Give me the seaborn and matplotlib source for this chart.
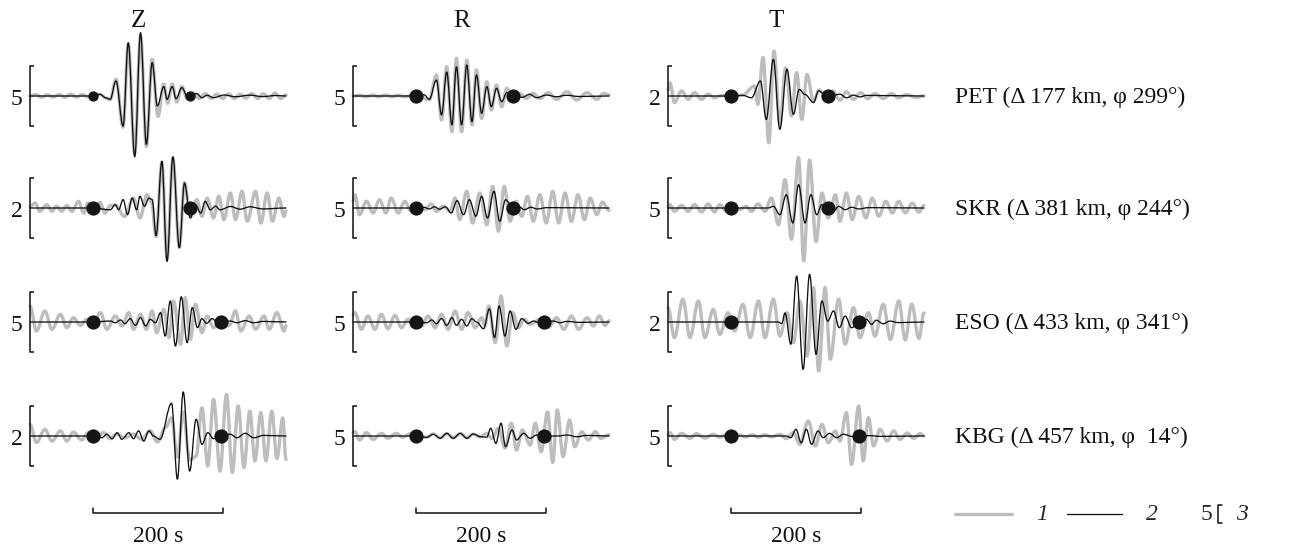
import matplotlib
matplotlib.use("Agg")
import matplotlib.pyplot as plt
from matplotlib.path import Path
from matplotlib.patches import PathPatch
import pandas as pd
import seaborn as sns

# ---------------- data ----------------
stations = ["PET", "SKR", "ESO", "KBG"]
station_labels = ["PET (\u0394 177 km, \u03c6 299\u00b0)", "SKR (\u0394 381 km, \u03c6 244\u00b0)",
                  "ESO (\u0394 433 km, \u03c6 341\u00b0)", "KBG (\u0394 457 km, \u03c6  14\u00b0)"]
components = ["Z", "R", "T"]
scale_Z = [5, 2, 5, 2]
scale_R = [5, 5, 5, 5]
scale_T = [2, 5, 2, 5]
win_start = [98, 98, 98, 98]
win_end = [247, 247, 296, 296]
t_max = 396
bar_seconds = 200
legend_labels = ["1", "2", "3"]
legend_scale = "5"

# traces: (time s, amplitude) at the wave extrema; *_1 = grey trace, *_2 = black trace
PET_Z_1 = [(0,0),(9,0.12),(18,-0.1),(27,0.1),(36,-0.08),(45,0.12),(54,-0.1),(63,0.15),(72,-0.1),(81,0.12),(90,-0.08),(98,0),(108,0.14),(118,-0.17),(124,-0.3),(133,1.4),(144,-2.6),(152,4.3),(162,-4.8),(171,5.0),(180,-4.2),(189,3.05),(198,-1.7),(207,1.0),(213,-0.6),(220,1.0),(227,-0.5),(235,0.8),(243,-0.2),(252,0.25),(262,-0.2),(271,0.2),(280,-0.2),(289,0.15),(298,-0.2),(307,0.18),(316,-0.2),(325,0.15),(334,-0.18),(343,0.2),(352,-0.2),(361,0.18),(370,-0.22),(379,0.25),(388,-0.22),(396,0.1)]
PET_Z_2 = [(0,0),(98,0),(108,0.14),(118,-0.17),(124,-0.28),(133,1.25),(144,-2.5),(152,4.44),(162,-5.06),(171,5.28),(180,-4.03),(189,2.78),(197,-0.83),(207,0.78),(212,-0.28),(220,0.78),(226,-0.22),(235,0.7),(243,0),(258,0.2),(266,-0.14),(274,0.06),(284,-0.14),(300,0.08),(318,-0.06),(340,0.07),(360,-0.05),(380,0.04),(396,0)]
SKR_Z_1 = [(0,0.05),(8,0.17),(15,-0.11),(26,0.11),(34,-0.11),(41,0.06),(49,-0.11),(57,0.08),(65,-0.11),(75,0.22),(83,-0.17),(90,0.17),(99,-0.17),(108,0.19),(116,-0.17),(124,0.08),(132,0.1),(146,-0.28),(160,0.33),(170,-0.33),(181,0.44),(188,0.2),(195,-0.95),(204,1.5),(212,-1.7),(221,1.65),(231,-1.3),(239,0.85),(248,-0.3),(258,0.28),(266,-0.28),(274,0.33),(284,-0.33),(292,0.39),(300,-0.39),(310,0.5),(318,-0.39),(328,0.56),(336,-0.44),(349,0.56),(357,-0.5),(367,0.5),(375,-0.44),(385,0.33),(393,-0.28),(396,-0.1)]
SKR_Z_2 = [(0,0),(98,0),(124,-0.06),(132,0.11),(137,-0.06),(144,0.28),(151,-0.22),(158,0.33),(165,-0.06),(170,0.39),(177,0.06),(184,0.33),(189,0.28),(195,-0.92),(204,1.56),(212,-1.78),(221,1.71),(231,-1.33),(239,0.83),(248,-0.33),(256,0.11),(264,-0.17),(271,0.22),(279,-0.06),(287,0.06),(294,-0.06),(310,0.05),(325,-0.04),(340,0.04),(360,-0.03),(396,0)]
ESO_Z_1 = [(0,1.33),(10,-0.75),(23,0.92),(34,-0.61),(47,0.64),(57,-0.47),(67,0.36),(78,-0.28),(88,0.22),(98,-0.1),(109,0.78),(119,-0.61),(132,0.5),(142,-0.33),(153,0.78),(160,-0.61),(171,0.64),(180,-0.61),(189,0.92),(196,-0.89),(207,1.05),(215,-1.3),(222,1.75),(233,-1.86),(240,2.03),(248,-1.44),(256,1.47),(266,-0.89),(274,0.5),(284,-0.47),(297,0.3),(308,-0.3),(318,0.92),(326,-0.75),(339,0.5),(349,-0.61),(362,0.5),(370,-0.61),(382,0.78),(393,-0.75),(396,-0.3)]
ESO_Z_2 = [(0,0),(98,0),(124,0.08),(132,-0.06),(140,0.17),(147,-0.14),(155,0.28),(163,-0.28),(171,0.36),(179,-0.33),(186,0.22),(194,-0.06),(202,0.78),(209,-1.17),(217,1.75),(225,-2.0),(234,2.1),(243,-1.72),(251,1.2),(259,-0.47),(266,0.28),(273,-0.11),(282,0.28),(289,0),(296,0),(310,0.08),(320,-0.06),(333,0.11),(346,-0.06),(361,0.05),(396,0)]
KBG_Z_1 = [(0,0.39),(10,-0.22),(23,0.22),(34,-0.17),(47,0.17),(57,-0.17),(67,0.13),(80,-0.13),(90,0.11),(101,-0.11),(114,0.11),(124,-0.09),(134,0.06),(147,-0.06),(160,0.06),(172,-0.1),(186,0.17),(197,-0.2),(210,0.3),(219,0.6),(228,-0.7),(237,0.8),(247,-0.8),(257,-0.67),(266,0.94),(275,-1.0),(284,1.22),(294,-1.17),(304,1.39),(313,-1.22),(322,1.0),(331,-1.05),(340,0.83),(348,-0.83),(357,0.78),(365,-0.83),(374,0.83),(382,-0.75),(391,0.6),(396,-0.78)]
KBG_Z_2 = [(0,0),(98,0),(111,-0.06),(119,0.06),(127,-0.09),(135,0.11),(142,-0.11),(153,0.11),(160,-0.09),(168,0.17),(176,-0.17),(184,0.17),(191,0),(201,-0.11),(219,1.09),(228,-1.44),(237,1.47),(247,-1.17),(257,0.56),(266,-0.28),(275,0.11),(284,-0.09),(295,0),(310,0.06),(320,-0.06),(333,0.09),(346,-0.06),(361,0.02),(396,0)]

PET_R_1 = [(0,0),(10,0.06),(20,-0.06),(30,0.07),(40,-0.06),(50,0.08),(60,-0.06),(70,0.07),(80,-0.06),(90,0.05),(98,0),(118,-0.3),(129,1.75),(137,-2.0),(145,2.44),(153,-2.97),(160,3.14),(168,-2.97),(176,3.0),(184,-2.42),(191,2.17),(199,-1.86),(207,1.19),(214,-1.17),(222,0.92),(230,-0.89),(238,0.64),(247,-0.2),(258,0.2),(268,-0.2),(279,0.22),(289,-0.22),(302,0.28),(315,-0.28),(331,0.36),(346,-0.33),(362,0.28),(377,-0.28),(388,0.2),(396,0.1)]
PET_R_2 = [(0,0),(98,0),(110,0.1),(118,-0.28),(129,1.33),(137,-1.58),(145,2.0),(153,-2.4),(160,2.44),(168,-2.4),(176,2.58),(184,-2.14),(191,1.75),(199,-1.44),(207,0.78),(214,-0.89),(222,0.64),(230,-0.47),(238,0.28),(247,0),(262,-0.11),(273,0.14),(284,-0.14),(299,0.08),(315,-0.06),(330,0.06),(350,-0.04),(396,0)]
SKR_R_1 = [(0,0.6),(3,1.1),(10,-0.56),(21,0.56),(31,-0.42),(41,0.69),(51,-0.42),(59,0.83),(70,-0.42),(80,0.56),(90,-0.28),(101,0.28),(111,-0.14),(121,0.33),(129,-0.28),(140,0.14),(150,-0.28),(158,0.83),(165,-0.97),(176,1.39),(185,-1.25),(196,1.25),(207,-1.39),(216,1.8),(225,-1.94),(234,1.8),(243,-1.1),(252,0.56),(261,-0.7),(270,0.97),(279,-1.1),(289,1.11),(299,-1.25),(309,1.39),(318,-1.25),(328,1.25),(338,-1.11),(348,1.11),(358,-0.97),(367,0.83),(377,-0.56),(386,0.5),(396,-0.2)]
SKR_R_2 = [(0,0),(98,0),(110,0.06),(118,-0.08),(126,0.1),(134,-0.1),(143,0.1),(152,-0.42),(161,0.61),(171,-0.56),(180,0.69),(190,-0.69),(199,0.97),(208,-0.83),(218,1.39),(227,-1.11),(236,0.69),(247,0),(256,0.14),(265,-0.14),(275,0.06),(285,-0.08),(300,0.03),(396,0)]
ESO_R_1 = [(0,0.6),(3,0.78),(13,-0.61),(23,0.5),(34,-0.61),(44,0.64),(54,-0.56),(65,0.56),(75,-0.47),(85,0.22),(91,-0.1),(97,0.15),(106,-0.33),(116,0.5),(127,-0.47),(137,0.64),(147,-0.61),(158,0.92),(168,-0.61),(178,0.78),(189,-0.47),(199,0.36),(204,-0.3),(210,1.33),(220,-1.72),(229,2.17),(238,-2.0),(247,0.78),(256,-0.47),(265,0.22),(274,-0.2),(289,0.22),(302,-0.47),(315,0.36),(326,-0.61),(338,0.5),(349,-0.61),(362,0.36),(372,-0.33),(381,0.5),(390,-0.3),(396,0.1)]
ESO_R_2 = [(0,0),(98,0),(114,-0.06),(122,0.17),(129,-0.14),(137,0.28),(145,-0.28),(153,0.36),(160,-0.28),(168,0.22),(176,-0.33),(184,0.28),(191,0),(202,-0.56),(211,1.1),(219,-1.3),(226,1.33),(235,-1.17),(243,0.92),(252,-0.61),(261,0.28),(271,-0.11),(279,0.08),(287,-0.06),(296,0),(310,0.08),(320,-0.06),(331,0.05),(350,-0.03),(396,0)]
KBG_R_1 = [(0,0.3),(3,0.36),(10,-0.33),(21,0.28),(31,-0.28),(44,0.22),(54,-0.19),(67,0.22),(77,-0.11),(88,0.17),(98,0),(114,-0.11),(124,0.17),(135,-0.15),(145,0.2),(155,-0.15),(166,0.2),(176,-0.15),(186,0.15),(197,-0.06),(207,0.22),(215,-0.19),(225,0.64),(235,-1.0),(245,1.06),(253,-1.17),(262,0.5),(274,-0.75),(282,1.06),(291,-1.31),(301,2.0),(309,-2.2),(316,2.17),(325,-1.72),(335,1.33),(343,-0.89),(354,0.36),(364,-0.33),(375,0.36),(383,-0.19),(396,0.1)]
KBG_R_2 = [(0,0),(98,0),(114,-0.11),(124,0.14),(135,-0.19),(145,0.22),(155,-0.19),(166,0.22),(176,-0.19),(186,0.17),(197,-0.06),(207,-0.1),(213,0.64),(221,-0.61),(229,1.06),(236,-0.89),(246,0.5),(253,-0.33),(264,0.22),(274,-0.19),(284,0.08),(296,0),(316,0),(331,0.08),(346,-0.06),(362,0.05),(396,0)]

PET_T_1 = [(0,0.2),(3,0.44),(10,-0.22),(21,0.17),(31,-0.11),(41,0.11),(52,-0.11),(62,0.06),(72,-0.06),(83,0.02),(97,0),(115,0.03),(134,0.33),(139,-0.28),(147,1.29),(156,-1.56),(164,1.5),(173,-0.94),(182,0.94),(191,-0.67),(199,0.78),(207,-0.78),(215,0.72),(225,-0.17),(234,0.2),(245,-0.1),(255,0.17),(266,-0.14),(276,0.14),(287,-0.11),(298,0.11),(309,-0.09),(320,0.08),(333,-0.08),(346,0.08),(356,-0.06),(370,0.05),(383,-0.05),(396,0)]
PET_T_2 = [(0,0),(97,0),(116,0.02),(129,-0.06),(143,0.5),(152,-0.78),(163,1.22),(173,-1.11),(184,0.89),(194,-0.61),(203,0.22),(212,0.05),(225,-0.22),(233,0.17),(245,0),(255,0.02),(266,0.06),(276,-0.06),(287,0.03),(297,-0.03),(307,0.02),(396,0)]
SKR_T_1 = [(0,0.1),(3,0.28),(10,-0.28),(21,0.22),(31,-0.28),(41,0.28),(52,-0.33),(62,0.33),(72,-0.33),(80,0.28),(90,-0.28),(100,0.14),(110,-0.14),(121,0.14),(129,-0.28),(139,0.33),(150,-0.28),(160,0.83),(171,-1.39),(181,2.36),(191,-2.6),(202,4.2),(210,-4.4),(219,4.0),(229,-2.8),(238,1.25),(248,-0.83),(259,1.11),(266,-1.11),(276,1.25),(285,-0.97),(295,0.97),(306,-0.83),(316,0.83),(326,-0.69),(337,0.56),(347,-0.42),(357,0.56),(367,-0.4),(378,0.4),(388,-0.35),(396,0.2)]
SKR_T_2 = [(0,0),(97,0),(155,0),(163,0.14),(173,-0.56),(183,1.11),(193,-1.25),(202,1.94),(212,-1.25),(221,1.11),(230,-0.56),(238,0.28),(245,0),(256,-0.28),(264,0.14),(274,-0.14),(284,0.06),(295,-0.08),(310,0.03),(396,0)]
ESO_T_1 = [(0,0.48),(10,-0.52),(23,0.76),(34,-0.52),(47,0.7),(57,-0.52),(70,0.42),(80,-0.41),(93,0.31),(103,-0.3),(116,0.59),(127,-0.52),(140,0.7),(150,-0.52),(163,0.76),(173,-0.47),(184,0.31),(194,-0.69),(204,0.7),(215,-1.13),(225,1.15),(233,-1.63),(243,1.15),(251,-1.24),(264,0.76),(274,-0.74),(287,0.48),(297,-0.52),(310,0.31),(320,-0.47),(333,0.59),(344,-0.58),(357,0.7),(367,-0.6),(377,0.6),(388,-0.55),(396,0.3)]
ESO_T_2 = [(0,0),(97,0),(170,0),(176,-0.05),(181,0.3),(190,-0.74),(199,1.53),(209,-1.58),(219,1.59),(229,-1.08),(238,0.7),(247,0.03),(256,0.37),(265,-0.19),(274,0.2),(284,-0.19),(296,0),(307,0.09),(315,-0.08),(322,0.06),(333,-0.06),(343,0.03),(356,-0.02),(396,0)]
KBG_T_1 = [(0,0.1),(3,0.28),(10,-0.28),(21,0.22),(34,-0.19),(44,0.19),(57,-0.17),(70,0.14),(80,-0.1),(90,0.1),(100,-0.08),(110,0.1),(120,-0.08),(130,0.1),(140,-0.1),(150,0.1),(160,-0.08),(173,0.14),(183,-0.22),(194,0.28),(204,-0.69),(217,1.25),(228,-0.83),(238,0.97),(248,-0.56),(259,0.42),(266,-0.42),(276,1.94),(284,-2.36),(295,2.5),(302,-2.08),(310,1.53),(318,-0.83),(328,0.56),(339,-0.42),(349,0.42),(359,-0.28),(370,0.25),(380,-0.2),(390,0.2),(396,0)]
KBG_T_2 = [(0,0),(97,0),(183,0),(190,-0.14),(198,0.56),(206,-0.56),(214,0.56),(222,-0.69),(232,0.42),(240,-0.14),(250,0.22),(261,-0.14),(271,0.14),(287,-0.06),(296,0),(310,0.03),(330,-0.03),(396,0)]

traces = {
    ("PET", "Z"): (PET_Z_1, PET_Z_2), ("PET", "R"): (PET_R_1, PET_R_2), ("PET", "T"): (PET_T_1, PET_T_2),
    ("SKR", "Z"): (SKR_Z_1, SKR_Z_2), ("SKR", "R"): (SKR_R_1, SKR_R_2), ("SKR", "T"): (SKR_T_1, SKR_T_2),
    ("ESO", "Z"): (ESO_Z_1, ESO_Z_2), ("ESO", "R"): (ESO_R_1, ESO_R_2), ("ESO", "T"): (ESO_T_1, ESO_T_2),
    ("KBG", "Z"): (KBG_Z_1, KBG_Z_2), ("KBG", "R"): (KBG_R_1, KBG_R_2), ("KBG", "T"): (KBG_T_1, KBG_T_2),
}
scales = {"Z": scale_Z, "R": scale_R, "T": scale_T}

# ---------------- style / layout ----------------
sns.set_theme(style="white")
plt.rcParams["font.family"] = ["Liberation Serif", "DejaVu Serif"]

W, H = 1294, 550
fig = plt.figure(figsize=(W / 100, H / 100), dpi=100)
fig.patch.set_facecolor("white")

GREY = "#bdbdbd"
BLACK = "#111111"
col_left_px = [30, 353, 668]
row_base_px = [96, 208, 322, 436]
panel_w_px = 256
panel_h_px = 60
fs = 17
px_per_s = panel_w_px / t_max


def draw_wave(ax, df, color, lw, z):
    """Draw a trace through its extrema as smooth half-wave curves (flat at each extremum)."""
    pts = list(zip(df["t"], df["a"]))
    verts = [pts[0]]
    codes = [Path.MOVETO]
    k = 0.3642
    for (t0, a0), (t1, a1) in zip(pts[:-1], pts[1:]):
        dt = t1 - t0
        verts += [(t0 + k * dt, a0), (t1 - k * dt, a1), (t1, a1)]
        codes += [Path.CURVE4] * 3
    ax.add_patch(PathPatch(Path(verts, codes), fill=False, edgecolor=color, lw=lw,
                           zorder=z, clip_on=False, capstyle="round", joinstyle="round"))


for r, st in enumerate(stations):
    for c, comp in enumerate(components):
        s = scales[comp][r]
        left = col_left_px[c] / W
        bottom = 1 - (row_base_px[r] + panel_h_px / 2) / H
        ax = fig.add_axes([left, bottom, panel_w_px / W, panel_h_px / H])
        tr1, tr2 = traces[(st, comp)]
        d1 = pd.DataFrame(tr1, columns=["t", "a"])
        d2 = pd.DataFrame(tr2, columns=["t", "a"])
        draw_wave(ax, d1, GREY, 2.4, 2)
        draw_wave(ax, d2, BLACK, 0.95, 3)
        msize = 55 if (r == 0 and c == 0) else 105
        sns.scatterplot(x=[win_start[r], win_end[r]], y=[0, 0], ax=ax, color="#151515",
                        s=msize, linewidth=0, zorder=5, legend=False, clip_on=False)
        # amplitude scale bracket
        tick = 3.5 / px_per_s
        ax.plot([tick, 0, 0, tick], [-s / 2, -s / 2, s / 2, s / 2], color=BLACK, lw=1.1,
                solid_capstyle="butt", clip_on=False)
        ax.annotate(str(s), xy=(0, 0), xytext=(-5.5, -2.5), textcoords="offset points",
                    ha="right", va="center", fontsize=fs, color=BLACK)
        ax.set_xlim(0, t_max)
        ax.set_ylim(-s / 2, s / 2)
        ax.set_axis_off()
        if r == 0:
            ax.text(168, 0.5 + (row_base_px[0] - 21) / panel_h_px, comp,
                    transform=ax.get_xaxis_transform(), ha="center", va="center",
                    fontsize=18, color=BLACK)
        if r == len(stations) - 1:
            trans = ax.get_xaxis_transform()
            yb = 0.5 - 77 / panel_h_px
            yt = 0.5 - 72 / panel_h_px
            t0 = win_start[r]
            t1 = t0 + bar_seconds
            ax.plot([t0, t0, t1, t1], [yt, yb, yb, yt], transform=trans, color=BLACK,
                    lw=1.1, clip_on=False)
            ax.text((t0 + t1) / 2, 0.5 - 100 / panel_h_px, f"{bar_seconds} s", transform=trans,
                    ha="center", va="center", fontsize=fs, color=BLACK)

# station labels and legend on an overlay in pixel coordinates
ov = fig.add_axes([0, 0, 1, 1])
ov.set_xlim(0, W)
ov.set_ylim(H, 0)
ov.set_axis_off()
for r, lab in enumerate(station_labels):
    ov.text(955, row_base_px[r] + 1, lab, ha="left", va="center", fontsize=fs, color=BLACK)

ly = 514
ov.plot([955, 1012], [ly, ly], color=GREY, lw=2.4)
ov.text(1042, ly, legend_labels[0], ha="center", va="center", fontsize=fs, style="italic")
ov.plot([1067, 1122], [ly, ly], color=BLACK, lw=0.95)
ov.text(1152, ly, legend_labels[1], ha="center", va="center", fontsize=fs, style="italic")
ov.text(1212, ly + 1, legend_scale, ha="right", va="center", fontsize=fs)
ov.plot([1222, 1218, 1218, 1222], [ly - 9, ly - 9, ly + 9, ly + 9], color=BLACK, lw=1.1)
ov.text(1242, ly, legend_labels[2], ha="center", va="center", fontsize=fs, style="italic")

fig.savefig("out.png", dpi=100, facecolor="white")
